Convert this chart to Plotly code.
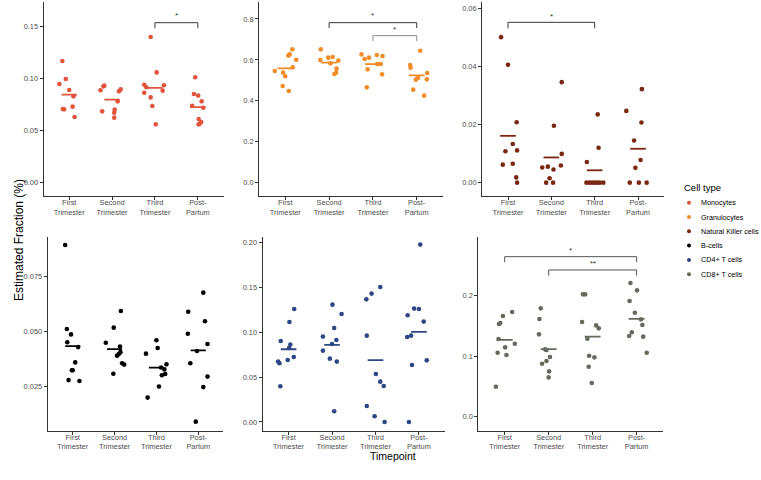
import plotly.graph_objects as go

# ---------------- data ----------------
timepoints = ["First<br>Trimester", "Second<br>Trimester", "Third<br>Trimester", "Post-<br>Partum"]
cell_types = ["Monocytes", "Granulocytes", "Natural Killer cells", "B-cells", "CD4+ T cells", "CD8+ T cells"]
colors = ["#E2533B", "#F28C28", "#7A2712", "#000000", "#2D4686", "#646B5E"]

mono_values = [
    [0.117, 0.0949, 0.0997, 0.0891, 0.083, 0.0708, 0.0705, 0.0731, 0.0631],
    [0.0888, 0.0926, 0.0933, 0.0686, 0.0702, 0.0673, 0.0625, 0.0782, 0.0878, 0.0897],
    [0.140, 0.106, 0.0942, 0.0917, 0.0936, 0.0885, 0.0865, 0.082, 0.0737, 0.0561],
    [0.1013, 0.0853, 0.0837, 0.0782, 0.074, 0.0721, 0.0612, 0.0583, 0.0561, 0.0564],
]
mono_jitter = [
    [-0.16, -0.23, -0.08, 0.0, 0.1, -0.15, -0.12, 0.08, 0.125],
    [-0.27, -0.2, -0.18, -0.23, 0.06, 0.05, 0.05, 0.13, 0.16, 0.2],
    [-0.1, 0.04, -0.25, -0.2, 0.21, 0.18, -0.25, -0.1, -0.06, 0.02],
    [-0.06, -0.09, 0.01, 0.09, -0.13, 0.13, 0.02, 0.08, 0.02, 0.04],
]

gran_values = [
    [0.5458, 0.6517, 0.627, 0.621, 0.601, 0.5377, 0.5637, 0.52, 0.4725, 0.448],
    [0.6517, 0.5996, 0.611, 0.6143, 0.5833, 0.5963, 0.5572, 0.5377, 0.5312],
    [0.627, 0.6045, 0.611, 0.624, 0.619, 0.554, 0.58, 0.58, 0.5295, 0.466],
    [0.575, 0.562, 0.645, 0.5035, 0.513, 0.536, 0.505, 0.4546, 0.4253],
]
gran_jitter = [
    [-0.24, 0.16, 0.1, 0.07, 0.25, -0.05, 0.17, 0.0, -0.06, 0.08],
    [-0.19, -0.2, -0.02, 0.08, 0.03, 0.21, 0.17, 0.16, 0.12],
    [-0.26, -0.19, -0.09, 0.09, 0.22, -0.12, 0.1, 0.18, 0.21, -0.14],
    [-0.15, -0.14, 0.08, -0.02, 0.03, 0.24, 0.23, -0.08, 0.17],
]

nk_values = [
    [0.0501, 0.0406, 0.0208, 0.0133, 0.0111, 0.0108, 0.0065, 0.0062, 0.0018, 0.0],
    [0.0346, 0.0196, 0.0099, 0.0059, 0.0052, 0.0055, 0.0045, 0.0015, 0.0, 0.0],
    [0.0235, 0.012, 0.0071, 0.0, 0.0, 0.0, 0.0, 0.0, 0.0, 0.0],
    [0.0322, 0.0247, 0.0207, 0.0145, 0.0078, 0.0051, 0.0, 0.0, 0.0],
]
nk_jitter = [
    [-0.16, 0.0, 0.2, 0.11, 0.21, -0.06, 0.11, -0.12, 0.19, 0.21],
    [0.24, 0.06, 0.24, 0.22, -0.21, -0.08, 0.05, -0.04, -0.12, 0.04],
    [0.07, 0.09, -0.18, -0.19, -0.12, -0.06, 0.0, 0.06, 0.12, 0.2],
    [0.09, -0.27, 0.08, -0.09, 0.06, -0.06, -0.19, 0.02, 0.2],
]

bcell_values = [
    [0.0895, 0.0511, 0.0486, 0.045, 0.0428, 0.0358, 0.0322, 0.0322, 0.0277, 0.0273],
    [0.0593, 0.0517, 0.0448, 0.0431, 0.0405, 0.0396, 0.0389, 0.0354, 0.0348, 0.0306],
    [0.0459, 0.0424, 0.0398, 0.0349, 0.0335, 0.0326, 0.0305, 0.0299, 0.0248, 0.0197],
    [0.0677, 0.059, 0.0546, 0.0489, 0.0442, 0.041, 0.0354, 0.0293, 0.0245, 0.0087],
]
bcell_jitter = [
    [-0.18, -0.14, -0.04, -0.13, 0.13, 0.06, -0.02, 0.0, -0.1, 0.16],
    [0.15, -0.02, -0.21, 0.13, 0.14, 0.1, 0.06, 0.18, 0.23, -0.03],
    [0.0, 0.03, -0.25, 0.24, 0.11, 0.19, 0.21, 0.13, 0.06, -0.21],
    [0.12, -0.24, 0.16, -0.25, 0.22, -0.03, -0.19, 0.22, 0.12, -0.06],
]

cd4_values = [
    [0.1258, 0.1113, 0.0902, 0.0861, 0.0824, 0.0724, 0.069, 0.0672, 0.0653, 0.0397],
    [0.1306, 0.1202, 0.1046, 0.095, 0.0913, 0.0868, 0.0794, 0.0705, 0.0672, 0.0119],
    [0.1503, 0.1429, 0.1365, 0.0961, 0.0534, 0.0449, 0.0401, 0.0178, 0.0063, 0.0],
    [0.1974, 0.1262, 0.1258, 0.1187, 0.1117, 0.0961, 0.0946, 0.0686, 0.0635, 0.0],
]
cd4_jitter = [
    [0.13, 0.02, -0.18, 0.04, 0.01, 0.12, -0.02, -0.24, -0.21, -0.19],
    [0.01, 0.22, 0.05, -0.21, 0.1, 0.0, -0.21, -0.05, 0.11, 0.05],
    [0.11, -0.09, -0.21, -0.2, 0.01, 0.11, 0.19, -0.2, -0.02, 0.21],
    [0.03, -0.11, 0.0, -0.26, 0.11, -0.18, -0.27, 0.18, -0.16, -0.23],
]

cd8_values = [
    [0.1725, 0.1659, 0.1544, 0.1527, 0.128, 0.1203, 0.1143, 0.1055, 0.1016, 0.0495],
    [0.1786, 0.161, 0.1357, 0.111, 0.1099, 0.0984, 0.0918, 0.0874, 0.0747, 0.0648],
    [0.2016, 0.2016, 0.156, 0.1505, 0.1456, 0.1286, 0.1005, 0.0978, 0.0824, 0.0555],
    [0.2203, 0.2082, 0.1907, 0.1714, 0.1604, 0.1511, 0.139, 0.133, 0.1319, 0.1055],
]
cd8_jitter = [
    [0.17, -0.04, -0.1, -0.13, -0.14, 0.23, 0.01, -0.16, 0.04, -0.2],
    [-0.18, -0.21, -0.22, -0.08, -0.05, 0.03, -0.05, -0.15, 0.01, 0.0],
    [-0.22, -0.17, -0.24, 0.08, 0.14, -0.12, -0.08, 0.04, -0.09, -0.02],
    [-0.14, 0.01, -0.16, -0.04, 0.1, 0.13, -0.11, -0.17, 0.15, 0.23],
]

all_values = [mono_values, gran_values, nk_values, bcell_values, cd4_values, cd8_values]
all_jitter = [mono_jitter, gran_jitter, nk_jitter, bcell_jitter, cd4_jitter, cd8_jitter]

# significance brackets: (panel, from timepoint, to timepoint, bar y, tick-end y, label, label y)
brackets = [
    (0, 3, 4, 0.1538, 0.1484, "*", 0.1605),
    (1, 2, 4, 0.782, 0.756, "*", 0.815),
    (1, 3, 4, 0.7186, 0.6925, "*", 0.750),
    (2, 1, 3, 0.0552, 0.0531, "*", 0.0573),
    (5, 1, 4, 0.2637, 0.2544, "*", 0.2745),
    (5, 2, 4, 0.2418, 0.2324, "**", 0.2525),
]
bracket_colors = ["#3A3A3A", "#3A3A3A", "#8A8A8A", "#3A3A3A", "#555555", "#555555"]

# ---------------- layout geometry ----------------
W, H = 761, 480
x_domains_px = [(43.5, 223.5), (259, 443), (482, 664), (47.6, 223.4), (262.5, 445), (478.3, 663)]
y_domains_px = [(2, 196)] * 3 + [(236.7, 430.7)] * 3
y_ranges = [[-0.0128, 0.1737], [-0.065, 0.883], [-0.0046, 0.0622],
            [0.00456, 0.0933], [-0.0097, 0.2062], [-0.023, 0.2966]]
y_ticks = [[0, 0.05, 0.10, 0.15], [0, 0.2, 0.4, 0.6, 0.8], [0, 0.02, 0.04, 0.06],
           [0.025, 0.05, 0.075], [0, 0.05, 0.10, 0.15, 0.20], [0, 0.1, 0.2]]
y_formats = [".2f", ".1f", ".2f", ".3f", ".2f", ".1f"]

FONT = "Liberation Sans, Arial, sans-serif"
fig = go.Figure()
cats = [1, 2, 3, 4]

for p in range(6):
    xa = "x" if p == 0 else f"x{p+1}"
    ya = "y" if p == 0 else f"y{p+1}"
    col = colors[p]
    xs, ys = [], []
    for ci, (vals, jit) in enumerate(zip(all_values[p], all_jitter[p])):
        for v, j in zip(vals, jit):
            xs.append(cats[ci] + j)
            ys.append(v)
    fig.add_trace(go.Scatter(x=xs, y=ys, mode="markers", xaxis=xa, yaxis=ya,
                             marker=dict(color=col, size=4.6, line=dict(width=0)),
                             showlegend=False, hoverinfo="skip"))
    for ci, vals in enumerate(all_values[p]):
        m = sum(vals) / len(vals)
        fig.add_trace(go.Scatter(x=[cats[ci] - 0.18, cats[ci] + 0.18], y=[m, m], mode="lines",
                                 xaxis=xa, yaxis=ya, line=dict(color=col, width=1.8),
                                 showlegend=False, hoverinfo="skip"))

for bi, (p, a, b, ytop, ybot, lab, ylab) in enumerate(brackets):
    xa = "x" if p == 0 else f"x{p+1}"
    ya = "y" if p == 0 else f"y{p+1}"
    fig.add_trace(go.Scatter(x=[a, a, b, b], y=[ybot, ytop, ytop, ybot], mode="lines",
                             xaxis=xa, yaxis=ya, line=dict(color=bracket_colors[bi], width=1),
                             showlegend=False, hoverinfo="skip"))
    fig.add_annotation(x=(a + b) / 2, y=ylab, xref=xa, yref=ya, text=lab, showarrow=False,
                       font=dict(family=FONT, size=8, color="#333333"))

layout = dict(width=W, height=H, margin=dict(l=0, r=0, t=0, b=0),
              paper_bgcolor="white", plot_bgcolor="white", showlegend=False,
              font=dict(family=FONT))
for p in range(6):
    x0, x1 = x_domains_px[p]
    y0, y1 = y_domains_px[p]
    suffix = "" if p == 0 else str(p + 1)
    layout["xaxis" + suffix] = dict(
        domain=[x0 / W, x1 / W], range=[0.4, 4.6], tickvals=cats, ticktext=timepoints,
        showline=True, linecolor="#333333", linewidth=1, showgrid=False, zeroline=False,
        ticks="outside", ticklen=3, tickcolor="#333333", tickwidth=1, ticklabelstandoff=-4,
        tickfont=dict(family=FONT, size=7.4, color="#4D4D4D"), fixedrange=True,
        anchor="y" + suffix)
    layout["yaxis" + suffix] = dict(
        domain=[1 - y1 / H, 1 - y0 / H], range=y_ranges[p], tickvals=y_ticks[p],
        tickformat=y_formats[p], showline=True, linecolor="#333333", linewidth=1,
        showgrid=False, zeroline=False, ticks="outside", ticklen=3, tickcolor="#333333",
        tickwidth=1, tickfont=dict(family=FONT, size=7.4, color="#4D4D4D"),
        fixedrange=True, anchor="x" + suffix)
fig.update_layout(**layout)

# axis titles
fig.add_annotation(x=10 / W, y=1 - 240 / H, xref="paper", yref="paper", text="Estimated Fraction (%)",
                   textangle=-90, showarrow=False, font=dict(family=FONT, size=12, color="#000000"))
fig.add_annotation(x=393 / W, y=1 - 464 / H, xref="paper", yref="paper", text="Timepoint",
                   showarrow=False, font=dict(family=FONT, size=10.5, color="#000000"))

# legend
fig.add_annotation(x=682 / W, y=1 - 187 / H, xref="paper", yref="paper", text="Cell type",
                   xanchor="left", showarrow=False, font=dict(family=FONT, size=9.5, color="#000000"))
for i, (name, col) in enumerate(zip(cell_types, colors)):
    cy = 202.7 + i * 14.3
    fig.add_shape(type="circle", xref="paper", yref="paper",
                  x0=(689 - 2) / W, x1=(689 + 2) / W, y0=1 - (cy + 2) / H, y1=1 - (cy - 2) / H,
                  fillcolor=col, line=dict(width=0))
    fig.add_annotation(x=699 / W, y=1 - cy / H, xref="paper", yref="paper", text=name,
                       xanchor="left", showarrow=False, font=dict(family=FONT, size=7.2, color="#000000"))

fig.write_html("out.html")
